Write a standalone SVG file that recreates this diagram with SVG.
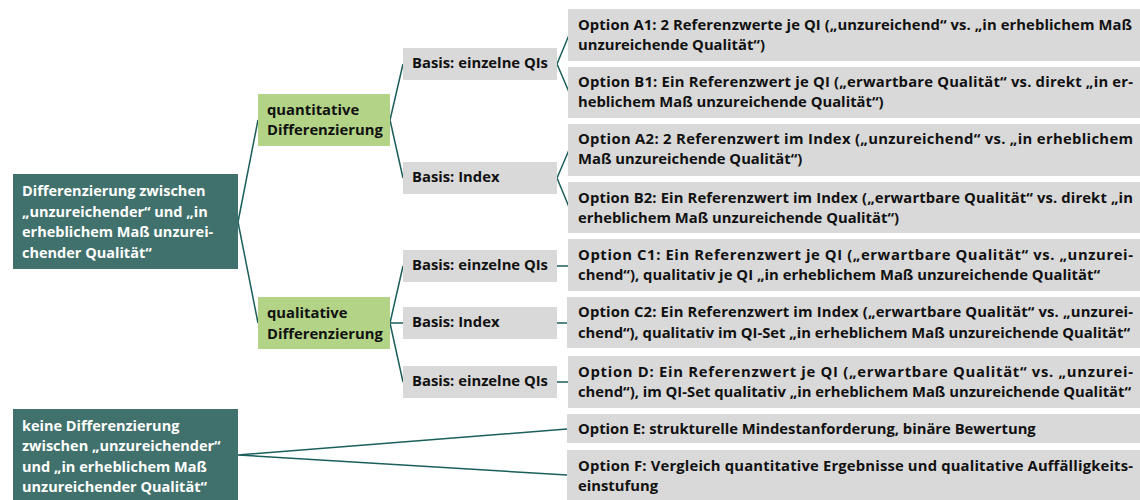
<svg xmlns="http://www.w3.org/2000/svg" width="1140" height="500" viewBox="0 0 1140 500">
<style>
text{font-family:"Open Sans","Noto Sans","Liberation Sans",sans-serif;font-weight:bold;font-size:14.8px;fill:#111}
.dark rect{fill:#41716c}
.dark text{fill:#fff;font-size:14.5px}
.green rect{fill:#b3d487}
.grey rect{fill:#d9d9d9}
#connectors path{fill:none;stroke:#1b5e5b;stroke-width:1.5}
</style>
<rect width="1140" height="500" fill="#fff"/>
<g id="connectors">
<path d="M238,222 L258,120 M238,222 L258,323"/>
<path d="M390,120 L403,64 M390,120 L403,178"/>
<path d="M390,323 L403,266 M390,323 L403,323 M390,323 L403,382"/>
<path d="M557,64 L569,35 M557,64 L569,92"/>
<path d="M557,178 L569,150 M557,178 L569,207"/>
<path d="M557,266 L568,266 M557,323 L567,323 M557,382 L568,382"/>
<path d="M238,455 L567,429 M238,455 L567,475"/>
</g>
<g id="root1" class="dark"><rect x="13" y="174" width="225" height="95"/>
<text x="22" y="196">Differenzierung zwischen</text>
<text x="22" y="217">„unzureichender“ und „in</text>
<text x="22" y="237">erheblichem Maß unzurei-</text>
<text x="22" y="258">chender Qualität“</text></g>
<g id="root2" class="dark"><rect x="13" y="409" width="225" height="91"/>
<text x="22" y="431">keine Differenzierung</text>
<text x="22" y="451">zwischen „unzureichender“</text>
<text x="22" y="472">und „in erheblichem Maß</text>
<text x="22" y="492">unzureichender Qualität“</text></g>
<g id="quant" class="green"><rect x="258" y="94" width="132" height="52"/>
<text x="267" y="115">quantitative</text>
<text x="267" y="135">Differenzierung</text></g>
<g id="qual" class="green"><rect x="258" y="297" width="132" height="52"/>
<text x="267" y="318">qualitative</text>
<text x="267" y="339">Differenzierung</text></g>
<g id="basis1" class="grey"><rect x="403" y="48" width="154" height="32"/><text x="412" y="68">Basis: einzelne QIs</text></g>
<g id="basis2" class="grey"><rect x="403" y="162" width="154" height="32"/><text x="412" y="182">Basis: Index</text></g>
<g id="basis3" class="grey"><rect x="403" y="250" width="154" height="32"/><text x="412" y="270">Basis: einzelne QIs</text></g>
<g id="basis4" class="grey"><rect x="403" y="307" width="154" height="32"/><text x="412" y="327">Basis: Index</text></g>
<g id="basis5" class="grey"><rect x="403" y="366" width="154" height="32"/><text x="412" y="386">Basis: einzelne QIs</text></g>
<g id="optA1" class="grey"><rect x="568" y="9" width="572" height="52"/>
<text x="578" y="30" textLength="554" lengthAdjust="spacing">Option A1: 2 Referenzwerte je QI („unzureichend“ vs. „in erheblichem Maß</text>
<text x="578" y="50">unzureichende Qualität“)</text></g>
<g id="optB1" class="grey"><rect x="568" y="67" width="572" height="51"/>
<text x="578" y="87" textLength="555" lengthAdjust="spacing">Option B1: Ein Referenzwert je QI („erwartbare Qualität“ vs. direkt „in er-</text>
<text x="578" y="107">heblichem Maß unzureichende Qualität“)</text></g>
<g id="optA2" class="grey"><rect x="568" y="124" width="572" height="52"/>
<text x="578" y="144" textLength="555" lengthAdjust="spacing">Option A2: 2 Referenzwert im Index („unzureichend“ vs. „in erheblichem</text>
<text x="578" y="164">Maß unzureichende Qualität“)</text></g>
<g id="optB2" class="grey"><rect x="568" y="182" width="572" height="51"/>
<text x="578" y="203" textLength="555" lengthAdjust="spacing">Option B2: Ein Referenzwert im Index („erwartbare Qualität“ vs. direkt „in</text>
<text x="578" y="223">erheblichem Maß unzureichende Qualität“)</text></g>
<g id="optC1" class="grey"><rect x="568" y="239" width="572" height="52"/>
<text x="578" y="260" textLength="555" lengthAdjust="spacing">Option C1: Ein Referenzwert je QI („erwartbare Qualität“ vs. „unzurei-</text>
<text x="578" y="280" textLength="522" lengthAdjust="spacing">chend“), qualitativ je QI „in erheblichem Maß unzureichende Qualität“</text></g>
<g id="optC2" class="grey"><rect x="567" y="297" width="573" height="51"/>
<text x="578" y="317" textLength="555" lengthAdjust="spacing">Option C2: Ein Referenzwert im Index („erwartbare Qualität“ vs. „unzurei-</text>
<text x="578" y="338" textLength="552" lengthAdjust="spacing">chend“), qualitativ im QI-Set „in erheblichem Maß unzureichende Qualität“</text></g>
<g id="optD" class="grey"><rect x="568" y="356" width="572" height="52"/>
<text x="578" y="377" textLength="555" lengthAdjust="spacing">Option D: Ein Referenzwert je QI („erwartbare Qualität“ vs. „unzurei-</text>
<text x="578" y="397" textLength="553" lengthAdjust="spacing">chend“), im QI-Set qualitativ „in erheblichem Maß unzureichende Qualität“</text></g>
<g id="optE" class="grey"><rect x="567" y="414" width="573" height="29"/>
<text x="578" y="434">Option E: strukturelle Mindestanforderung, binäre Bewertung</text></g>
<g id="optF" class="grey"><rect x="567" y="450" width="573" height="50"/>
<text x="578" y="471" textLength="555" lengthAdjust="spacing">Option F: Vergleich quantitative Ergebnisse und qualitative Auffälligkeits-</text>
<text x="578" y="491">einstufung</text></g>
</svg>
